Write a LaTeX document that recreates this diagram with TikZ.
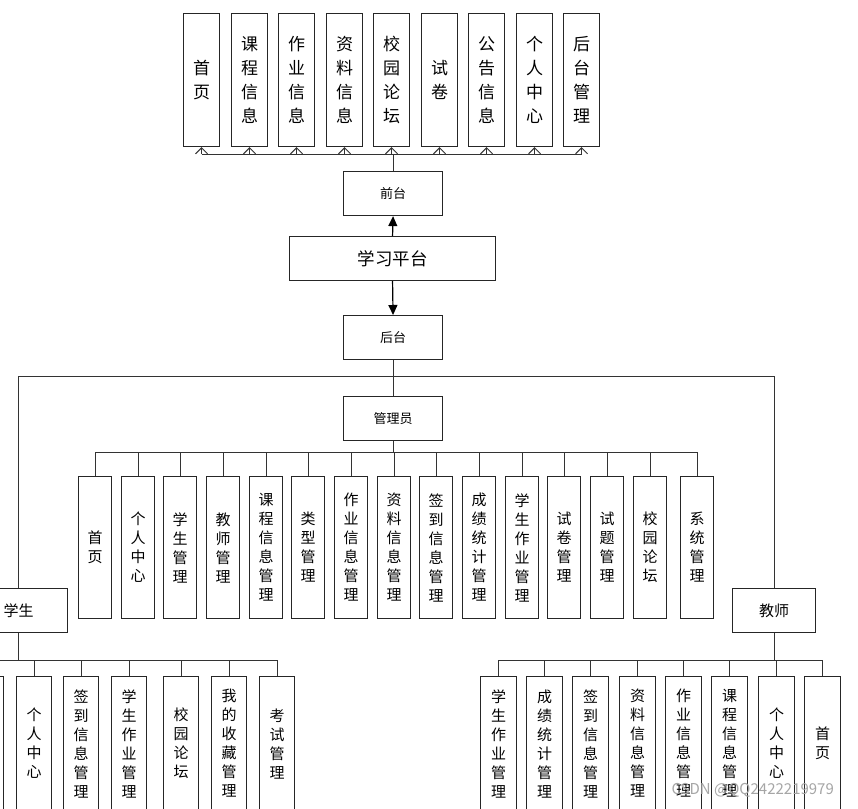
\documentclass[tikz,border=0pt]{standalone}
\usepackage{fontspec}
\setmainfont{Noto Sans CJK SC}
\usetikzlibrary{arrows.meta}
\begin{document}
\begin{tikzpicture}[x=1pt,y=-1pt,
  box/.style={draw=black!85, line width=1.1pt, fill=white, inner sep=0pt, anchor=north west, align=center},
  topbox/.style={box, minimum width=36pt, minimum height=133pt, font=\fontsize{17}{24}\selectfont},
  adminbox/.style={box, minimum width=33pt, minimum height=142pt, font=\fontsize{15}{19}\selectfont},
  lowbox/.style={box, minimum height=134pt, font=\fontsize{15}{19}\selectfont},
  hbox/.style={box, minimum width=99pt, minimum height=44pt, font=\fontsize{13}{15}\selectfont},
  wire/.style={draw=black!80, line width=1pt},
  openarrow/.style={wire, -{Straight Barb[length=6pt,width=12pt,line width=1pt]}},
  fillarrow/.style={draw=black, line width=1.2pt, -{Triangle[length=10pt,width=9pt]}}]
\clip (0,0) rectangle (858,808);
\fill[white] (0,0) rectangle (858,808);

% coordinates for bus levels
\coordinate (tb) at (0,154);
\coordinate (rb) at (0,376);
\coordinate (ab) at (0,452);
\coordinate (lb) at (0,660);

% top row
\foreach \l/\t [count=\i] in {183/{首\\页},231/{课\\程\\信\\息},278/{作\\业\\信\\息},326/{资\\料\\信\\息},373/{校\\园\\论\\坛},421/{试\\卷},468/{公\\告\\信\\息},516/{个\\人\\中\\心},563/{后\\台\\管\\理}}
  \node[topbox] (t\i) at (\l,13) {\t};

% central nodes
\node[hbox] (qt) at (343,171) {前台};
\node[box, minimum width=206pt, minimum height=44pt, font=\fontsize{17.5}{20}\selectfont] (pt) at (289,236) {学习平台};
\node[hbox] (ht) at (343,315) {后台};
\node[hbox] (gl) at (343,396) {管理员};
\node[box, minimum width=98pt, minimum height=44pt, font=\fontsize{15}{17}\selectfont] (xs) at (-31,588) {学生};
\node[box, minimum width=83pt, minimum height=44pt, font=\fontsize{15}{17}\selectfont] (js) at (732,588) {教师};

% admin row
\foreach \l/\t [count=\i] in {78/{首\\页},121/{个\\人\\中\\心},163/{学\\生\\管\\理},206/{教\\师\\管\\理},249/{课\\程\\信\\息\\管\\理},291/{类\\型\\管\\理},334/{作\\业\\信\\息\\管\\理},377/{资\\料\\信\\息\\管\\理},419/{签\\到\\信\\息\\管\\理},462/{成\\绩\\统\\计\\管\\理},505/{学\\生\\作\\业\\管\\理},547/{试\\卷\\管\\理},590/{试\\题\\管\\理},633/{校\\园\\论\\坛},680/{系\\统\\管\\理}}
  \node[adminbox] (a\i) at (\l,476) {\t};

% student row
\node[lowbox, minimum width=36pt] (s0) at (-33,676) {};
\foreach \l/\t [count=\i] in {16/{个\\人\\中\\心},63/{签\\到\\信\\息\\管\\理},111/{学\\生\\作\\业\\管\\理},163/{校\\园\\论\\坛},211/{我\\的\\收\\藏\\管\\理},259/{考\\试\\管\\理}}
  \node[lowbox, minimum width=35pt] (s\i) at (\l,676) {\t};

% teacher row
\foreach \l/\t [count=\i] in {480/{学\\生\\作\\业\\管\\理},526/{成\\绩\\统\\计\\管\\理},572/{签\\到\\信\\息\\管\\理},619/{资\\料\\信\\息\\管\\理},665/{作\\业\\信\\息\\管\\理},711/{课\\程\\信\\息\\管\\理},758/{个\\人\\中\\心},804/{首\\页}}
  \node[lowbox, minimum width=36pt] (j\i) at (\l,676) {\t};

% connectors: front end
\draw[wire] (qt.north) -- (qt.north |- tb);
\draw[wire] (t1.south |- tb) -- (t9.south |- tb);
\foreach \i in {1,...,9}
  \draw[openarrow] (t\i.south |- tb) -- (t\i.south);
\draw[fillarrow] (pt.north) -- (qt.south);
\draw[fillarrow] (pt.south) -- (ht.north);

% back end
\draw[wire] (ht.south) -- (gl.north);
\draw[wire] (xs.north -| 18,0) -- (18,376) -- (js.north |- rb) -- (js.north);
\draw[wire] (gl.south) -- (gl.south |- ab);
\draw[wire] (a1.north |- ab) -- (a15.north |- ab);
\foreach \i in {1,...,15}
  \draw[wire] (a\i.north |- ab) -- (a\i.north);

% student
\draw[wire] (xs.south -| 18,0) -- (18,660);
\draw[wire] (s0.north |- lb) -- (s6.north |- lb);
\foreach \i in {0,...,6}
  \draw[wire] (s\i.north |- lb) -- (s\i.north);

% teacher
\draw[wire] (js.south) -- (js.south |- lb);
\draw[wire] (j1.north |- lb) -- (j8.north |- lb);
\foreach \i in {1,...,8}
  \draw[wire] (j\i.north |- lb) -- (j\i.north);

% watermark
\node[text=black!35, font=\fontsize{15}{17}\selectfont, anchor=west] (wm) at (668,790) {CSDN @QQ2422219979};
\end{tikzpicture}
\end{document}
